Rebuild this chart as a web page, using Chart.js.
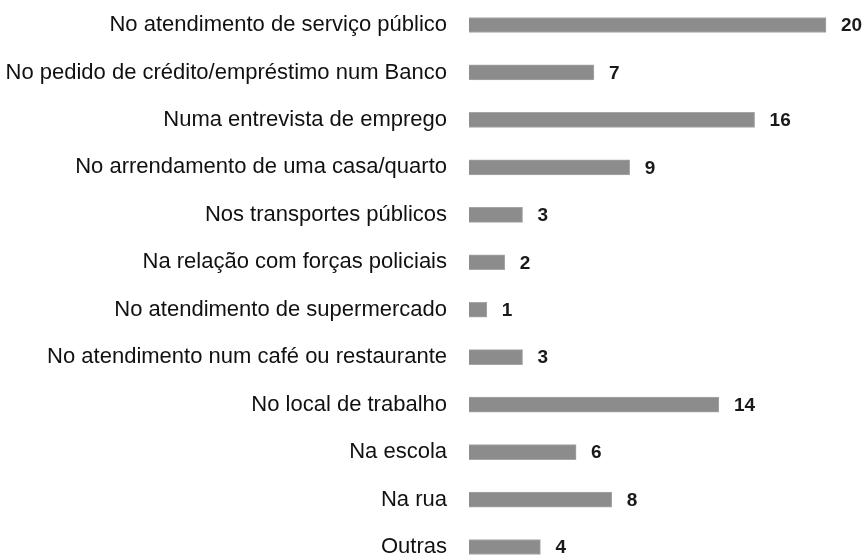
<!DOCTYPE html>
<html>
<head>
<meta charset="utf-8">
<script src="https://cdn.jsdelivr.net/npm/chart.js@4"></script>
<style>
  html, body { margin: 0; padding: 0; background: #fff; }
  #wrap { width: 862px; height: 555px; }
</style>
</head>
<body>
<div id="wrap"><canvas id="situacoesChart"></canvas></div>
<script>
// Situações de discriminação - barras horizontais
const categorias = [
  'No atendimento de serviço público',
  'No pedido de crédito/empréstimo num Banco',
  'Numa entrevista de emprego',
  'No arrendamento de uma casa/quarto',
  'Nos transportes públicos',
  'Na relação com forças policiais',
  'No atendimento de supermercado',
  'No atendimento num café ou restaurante',
  'No local de trabalho',
  'Na escola',
  'Na rua',
  'Outras'
];
const respostas = [20, 7, 16, 9, 3, 2, 1, 3, 14, 6, 8, 4];

// value labels to the right of each bar
const valueLabels = {
  id: 'valueLabels',
  afterDatasetsDraw(chart) {
    const ctx = chart.ctx;
    const meta = chart.getDatasetMeta(0);
    ctx.save();
    ctx.font = 'bold 19px "Liberation Sans", Arial, sans-serif';
    ctx.fillStyle = '#1a1a1a';
    ctx.textAlign = 'left';
    ctx.textBaseline = 'middle';
    meta.data.forEach((bar, i) => {
      ctx.fillText(respostas[i], bar.x + 15, bar.y + 1);
    });
    ctx.restore();
  }
};

new Chart(document.getElementById('situacoesChart'), {
  type: 'bar',
  data: {
    labels: categorias,
    datasets: [{
      data: respostas,
      backgroundColor: '#8c8c8c',
      borderColor: '#a6a6a6',
      borderWidth: 1,
      barThickness: 15,
      clip: false
    }]
  },
  options: {
    indexAxis: 'y',
    responsive: true,
    maintainAspectRatio: false,
    animation: false,
    layout: { padding: { top: 25, bottom: 8, left: 0, right: 36 } },
    plugins: {
      legend: { display: false },
      tooltip: { enabled: false }
    },
    scales: {
      x: {
        display: false,
        min: 0,
        max: 20
      },
      y: {
        offset: false,
        border: { display: false },
        grid: { display: false, drawTicks: false },
        afterFit: scale => {
          scale.width = 469;
          // no label overhang, rows sit on the layout padding
          scale.paddingTop = 0;
          scale.paddingBottom = 0;
        },
        ticks: {
          padding: 22,
          color: '#111',
          font: { family: '"Liberation Sans", Arial, sans-serif', size: 22 }
        }
      }
    }
  },
  plugins: [valueLabels]
});
</script>
</body>
</html>
